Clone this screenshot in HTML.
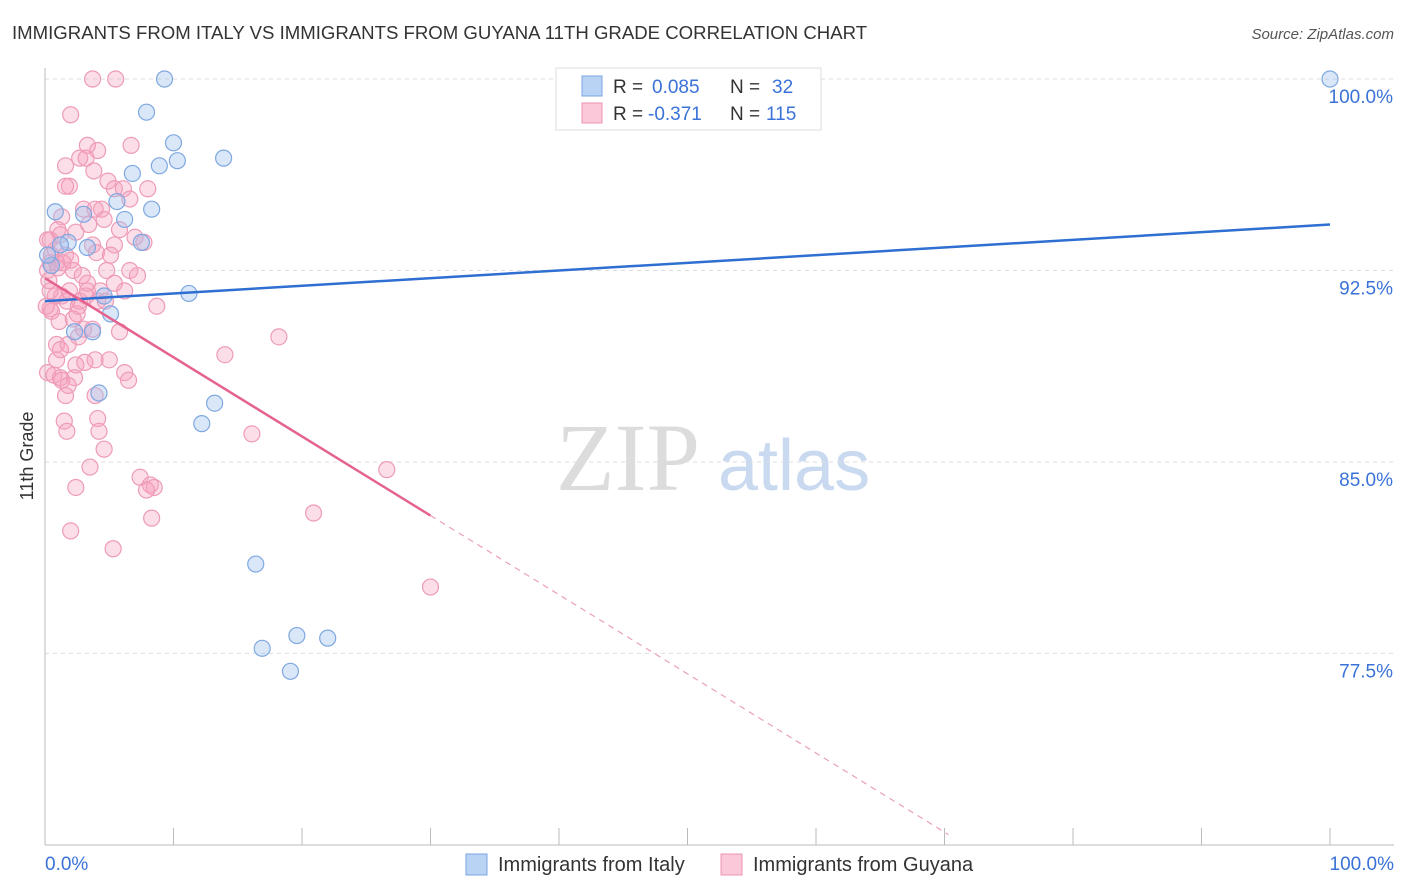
<!DOCTYPE html>
<html><head><meta charset="utf-8"><style>
body{margin:0;background:#fff;font-family:"Liberation Sans",sans-serif;}
#wrap{position:relative;width:1406px;height:892px;overflow:hidden;}
</style></head><body>
<div id="wrap">
<svg id="svg" width="1406" height="892">
<text x="12" y="39" font-size="18.6" fill="#333">IMMIGRANTS FROM ITALY VS IMMIGRANTS FROM GUYANA 11TH GRADE CORRELATION CHART</text>
<text x="1394" y="39" font-size="15" fill="#555" font-style="italic" text-anchor="end">Source: ZipAtlas.com</text>
<text x="556" y="490" font-size="96" fill="#dcdcdc" font-family="Liberation Serif,serif">ZIP</text>
<text x="718" y="490" font-size="72" fill="#c9d9ef">atlas</text>
<text transform="translate(33,456) rotate(-90)" font-size="18" fill="#333" text-anchor="middle">11th Grade</text>
<g id="grid"></g><g id="marks"></g>
<rect x="556" y="68" width="265" height="62" fill="#fff" stroke="#ddd"/>
<rect x="582" y="76" width="20" height="20" fill="#b9d3f5" stroke="#7aa5e0"/>
<rect x="582" y="103" width="20" height="20" fill="#fac8d8" stroke="#ec95b3"/>
<text x="613" y="93" font-size="19" fill="#333">R =</text>
<text x="652" y="93" font-size="19" fill="#3a72d8">0.085</text>
<text x="730" y="93" font-size="19" fill="#333">N =</text>
<text x="772" y="93" font-size="19" fill="#3a72d8">32</text>
<text x="613" y="120" font-size="19" fill="#333">R =</text>
<text x="648" y="120" font-size="19" fill="#3a72d8">-0.371</text>
<text x="730" y="120" font-size="19" fill="#333">N =</text>
<text x="766" y="120" font-size="19" fill="#3a72d8">115</text>
<rect x="466" y="854" width="21" height="21" fill="#b9d3f5" stroke="#7aa5e0"/>
<text x="498" y="871" font-size="20" fill="#333">Immigrants from Italy</text>
<rect x="721" y="854" width="21" height="21" fill="#fac8d8" stroke="#ec95b3"/>
<text x="753" y="871" font-size="20" fill="#333">Immigrants from Guyana</text>
<text x="45" y="870" font-size="19" fill="#3a72d8">0.0%</text>
<text x="1394" y="870" font-size="19" fill="#3a72d8" text-anchor="end">100.0%</text>
</svg></div>
<script>
const yTicks=[100,92.5,85,77.5];
const yTickLabels=["100.0%","92.5%","85.0%","77.5%"];
const italyX=[9.3,100,7.9,10.0,13.9,8.9,10.3,6.8,5.6,8.3,0.8,3.0,6.2,1.8,3.3,7.5,1.2,11.2,4.6,5.1,2.3,3.7,4.2,13.2,12.2,16.4,19.6,22.0,16.9,19.1,0.5,0.2];
const italyY=[100,100,98.7,97.5,96.9,96.6,96.8,96.3,95.2,94.9,94.8,94.7,94.5,93.6,93.4,93.6,93.5,91.6,91.5,90.8,90.1,90.1,87.7,87.3,86.5,81.0,78.2,78.1,77.7,76.8,92.7,93.1];
const guyanaX=[3.7,5.5,2.0,3.3,4.1,6.7,2.7,1.6,3.2,3.8,4.9,1.9,1.6,5.4,6.1,8.0,4.4,3.0,1.3,4.6,3.4,2.4,1.2,0.4,3.7,5.4,7.7,0.8,4.0,1.6,2.0,0.4,0.2,1.0,2.2,4.8,6.6,7.2,3.3,5.4,6.2,0.8,1.3,3.2,4.1,4.7,0.4,0.5,2.7,8.7,2.5,1.1,3.7,5.8,2.6,0.9,1.8,18.2,14.0,3.9,0.9,2.4,3.1,0.2,0.7,1.2,1.3,2.3,6.2,6.5,1.8,3.9,4.1,1.5,1.7,4.2,16.1,4.6,3.5,26.6,2.4,7.4,8.2,8.5,7.9,20.9,8.3,2.0,5.3,30.0,0.4,0.1,0.3,0.5,0.9,1.4,1.9,2.9,3.3,4.3,2.2,3.0,1.2,5.0,1.6,6.6,5.8,3.9,7.0,5.1,1.0,0.2,1.7,2.6];
const guyanaY=[100,100,98.6,97.4,97.2,97.4,96.9,96.6,96.9,96.4,96.0,95.8,95.8,95.7,95.7,95.7,94.9,94.9,94.6,94.5,94.3,94.0,93.9,93.7,93.5,93.5,93.6,93.3,93.2,93.1,92.9,92.8,92.5,92.6,92.5,92.5,92.5,92.3,92.0,92.0,91.7,91.5,91.5,91.5,91.3,91.3,91.0,90.9,91.3,91.1,90.8,90.5,90.2,90.1,89.9,89.6,89.6,89.9,89.2,89.0,89.0,88.8,88.9,88.5,88.4,88.3,88.2,88.3,88.5,88.2,88.0,87.6,86.7,86.6,86.2,86.2,86.1,85.5,84.8,84.7,84.0,84.4,84.1,84.0,83.9,83.0,82.8,82.3,81.6,80.1,91.7,91.1,92.1,93.1,92.8,92.8,91.7,92.3,91.7,91.7,90.6,90.2,89.4,89.0,87.6,95.3,94.1,94.9,93.8,93.1,94.1,93.7,91.3,91.1];
const italyTrend=[91.3,94.3];
const guyanaTrend=[92.2,82.9,30,70.3];
const NS="http://www.w3.org/2000/svg";
const X=v=>45+v*12.85, Y=v=>79+(100-v)*25.53;
function mk(p,t,a){const e=document.createElementNS(NS,t);for(const k in a)e.setAttribute(k,a[k]);p.appendChild(e);return e;}
const grid=document.getElementById('grid'), marks=document.getElementById('marks');
yTicks.forEach((t,i)=>{
 const l=mk(grid,'line',{x1:45,x2:1394,y1:Y(t),y2:Y(t),stroke:'#ddd','stroke-dasharray':'4,4'});
 
 
 const tx=mk(grid,'text',{x:1393,y:Y(t)+24,'font-size':19,fill:'#3a72d8','text-anchor':'end'});
 tx.textContent=yTickLabels[i];
 
 
});
const ax=mk(grid,'line',{x1:45,x2:45,y1:68,y2:845,stroke:'#bbb'});


const bx=mk(grid,'line',{x1:45,x2:1394,y1:845,y2:845,stroke:'#bbb'});


for(let i=1;i<=10;i++){const tk=mk(grid,'line',{x1:X(i*10),x2:X(i*10),y1:828,y2:845,stroke:'#bbb'});
 
 }
guyanaX.forEach((x,i)=>{const c=mk(marks,'circle',{cx:X(x),cy:Y(guyanaY[i]),r:8,fill:'rgba(245,160,190,0.35)',stroke:'#ee9bb8','stroke-width':1.2});
 
 });
italyX.forEach((x,i)=>{const c=mk(marks,'circle',{cx:X(x),cy:Y(italyY[i]),r:8,fill:'rgba(160,195,240,0.4)',stroke:'#7fa8e0','stroke-width':1.2});
 
 });
const bl=mk(marks,'line',{x1:X(0),y1:Y(italyTrend[0]),x2:X(100),y2:Y(italyTrend[1]),stroke:'#2e6fd1','stroke-width':2.5});


const slope=(guyanaTrend[1]-guyanaTrend[0])/guyanaTrend[2];
const pl=mk(marks,'line',{x1:X(0),y1:Y(guyanaTrend[0]),x2:X(guyanaTrend[2]),y2:Y(guyanaTrend[1]),stroke:'#e4638f','stroke-width':2.5});


const pd=mk(marks,'line',{x1:X(guyanaTrend[2]),y1:Y(guyanaTrend[1]),x2:X(guyanaTrend[3]),y2:Y(guyanaTrend[0]+slope*guyanaTrend[3]),stroke:'#eaa0b9','stroke-width':1.2,'stroke-dasharray':'6,5'});


</script>
</body></html>
